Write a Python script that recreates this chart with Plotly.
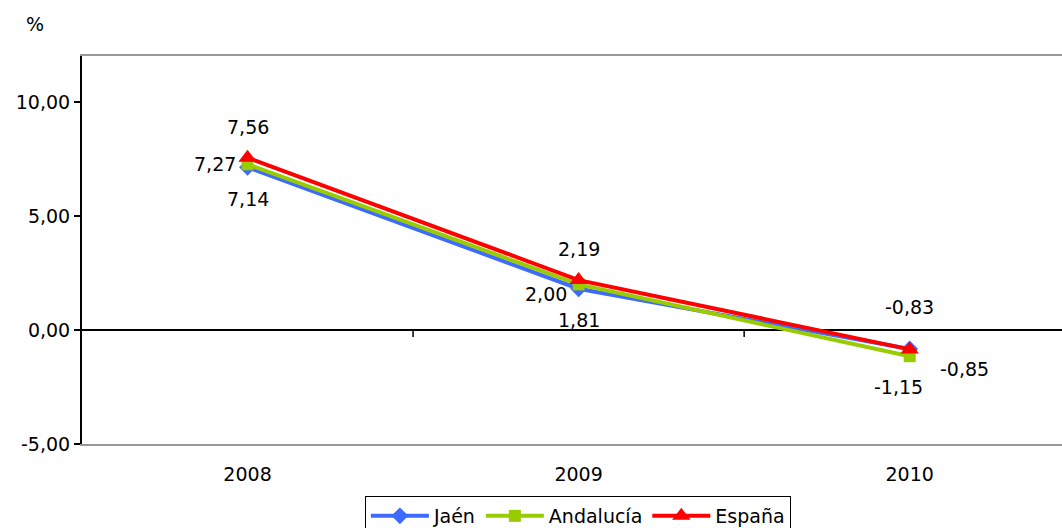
import plotly.graph_objects as go

years = ["2008", "2009", "2010"]
jaen = [7.14, 1.81, -0.83]
andalucia = [7.27, 2.00, -1.15]
espana = [7.56, 2.19, -0.85]
series_names = ["Jaén", "Andalucía", "España"]
y_ticks = [-5, 0, 5, 10]
y_tick_labels = ["-5,00", "0,00", "5,00", "10,00"]

# label offsets (pixels) per series/point
jaen_shift = [(0, -32), (0, -31), (0, 42)]
anda_shift = [(-33, 0), (-33, -10), (-11, -31)]
esp_shift = [(0, 31), (0, 31), (55, -20)]

FONT = "DejaVu Sans"
FS = 19
colors = ["#3D6BFF", "#99CC00", "#FF0000"]
symbols = ["diamond", "square", "triangle-up"]
msizes = [13, 12, 16]

fig = go.Figure()
for name, vals, col, sym, ms in zip(series_names, [jaen, andalucia, espana], colors, symbols, msizes):
    fig.add_trace(go.Scatter(
        x=years, y=vals, name=name, mode="lines+markers",
        line=dict(color=col, width=4),
        marker=dict(symbol=sym, size=ms, color=col),
    ))

def fmt(v):
    return f"{v:.2f}".replace(".", ",")

for vals, shifts in [(jaen, jaen_shift), (andalucia, anda_shift), (espana, esp_shift)]:
    for i, (v, (dx, dy)) in enumerate(zip(vals, shifts)):
        fig.add_annotation(x=i, y=v, xref="x", yref="y", text=fmt(v), showarrow=False,
                           xanchor="center", yanchor="middle",
                           xshift=dx, yshift=dy,
                           font=dict(family=FONT, size=FS, color="black"))

fig.add_annotation(xref="paper", yref="paper", x=-0.048, y=1.0825, text="%",
                   xanchor="center", yanchor="middle",
                   showarrow=False, font=dict(family=FONT, size=FS, color="black"))

# category boundary tick marks on the zero line
for b in [0.5, 1.5]:
    fig.add_shape(type="line", xref="x", yref="y", x0=b, x1=b,
                  ysizemode="pixel", yanchor=0, y0=0, y1=-7,
                  line=dict(color="black", width=1.5))

fig.update_layout(
    width=1062, height=528,
    margin=dict(l=82, r=0, t=56, b=84, autoexpand=False),
    paper_bgcolor="white", plot_bgcolor="white",
    separators=",.",
    font=dict(family=FONT, size=FS, color="black"),
    showlegend=True,
    legend=dict(orientation="h", x=0.506, xanchor="center", y=-0.134, yanchor="top",
                bordercolor="black", borderwidth=1, font=dict(family=FONT, size=FS),
                tracegroupgap=0, itemwidth=58),
)
fig.update_xaxes(
    type="category", range=[-0.5, 2.46],
    showline=True, linecolor="#999999", linewidth=2, mirror=True,
    showgrid=False, zeroline=False,
    ticks="outside", ticklen=12, tickcolor="white",
    tickfont=dict(family=FONT, size=FS),
)
fig.update_yaxes(
    range=[-5, 12.02], tickvals=y_ticks, ticktext=y_tick_labels,
    showline=True, linecolor="black", linewidth=2,
    showgrid=False, zeroline=True, zerolinecolor="black", zerolinewidth=2,
    ticks="outside", ticklen=6, tickcolor="black", tickwidth=1.5,
    tickfont=dict(family=FONT, size=FS),
)

fig.write_html(
    "out.html",
    config={"displayModeBar": False},
    post_script="document.body.style.margin='0';document.body.style.overflow='hidden';",
)
